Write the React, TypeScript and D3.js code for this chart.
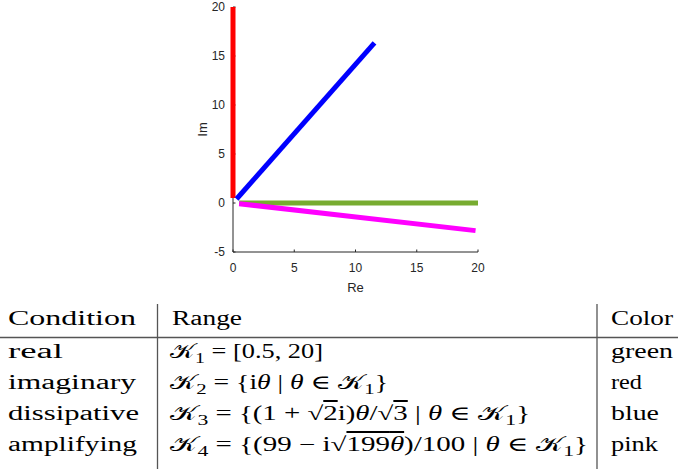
import React from "react";
import * as d3 from "d3";

// curve end points (Re, Im)
const realRe = [0.5, 20];
const realIm = [0, 0];
const imagRe = [0, 0];
const imagIm = [0.5, 20];
const dissRe = [0.29, 11.55];
const dissIm = [0.41, 16.33];
const ampRe = [0.5, 19.8];
const ampIm = [-0.07, -2.82];

const xTicks = [0, 5, 10, 15, 20];
const yTicks = [-5, 0, 5, 10, 15, 20];

const conditions = ["real", "imaginary", "dissipative", "amplifying"];
const colorNames = ["green", "red", "blue", "pink"];
const headers = ["Condition", "Range", "Color"];

type Seg = { s: string; it?: boolean; sub?: boolean; over?: boolean };

const ranges: Seg[][] = [
  [{ s: "𝒦" }, { s: "1", sub: true }, { s: " = [0.5, 20]" }],
  [
    { s: "𝒦" }, { s: "2", sub: true }, { s: " = {i" }, { s: "θ", it: true },
    { s: " | " }, { s: "θ", it: true }, { s: " ∈ " }, { s: "𝒦" }, { s: "1", sub: true }, { s: "}" },
  ],
  [
    { s: "𝒦" }, { s: "3", sub: true }, { s: " = {(1 + √" }, { s: "2", over: true },
    { s: "i)" }, { s: "θ", it: true }, { s: "/√" }, { s: "3", over: true }, { s: " | " },
    { s: "θ", it: true }, { s: " ∈ " }, { s: "𝒦" }, { s: "1", sub: true }, { s: "}" },
  ],
  [
    { s: "𝒦" }, { s: "4", sub: true }, { s: " = {(99 − i√" }, { s: "199", over: true },
    { s: "θ", it: true, over: true }, { s: ")/100 | " }, { s: "θ", it: true }, { s: " ∈ " },
    { s: "𝒦" }, { s: "1", sub: true }, { s: "}" },
  ],
];

// text widths measured in the reference
const condWidths = [55, 128, 131, 129];
const rangeWidths = [153, 218, 360, 418];
const colorWidths = [62, 31, 48, 47];
const headerWidths = [128, 70, 62];

const series = [
  { re: realRe, im: realIm, color: "#77AC30" },
  { re: imagRe, im: imagIm, color: "#FF0000" },
  { re: dissRe, im: dissIm, color: "#0000FF" },
  { re: ampRe, im: ampIm, color: "#FF00FF" },
];

export default function App() {
  const x = d3.scaleLinear().domain([0, 20]).range([233, 478]);
  const y = d3.scaleLinear().domain([-5, 20]).range([252, 7]);
  const line = d3.line<[number, number]>().x((d) => x(d[0])).y((d) => y(d[1]));
  const axisColor = "#262626";
  const tickFont = "'Liberation Sans', Arial, sans-serif";
  const serif = "'Liberation Serif', 'DejaVu Serif', serif";

  const colX = [8, 172, 611];
  const headY = 325;
  const rowY = [358, 389, 420, 451];
  const fs = 20;

  const mathText = (segs: Seg[], key: number) => {
    let shifted = false;
    return segs.map((g, i) => {
      let dy = 0;
      if (g.sub && !shifted) { dy = 5; shifted = true; }
      else if (!g.sub && shifted) { dy = -5; shifted = false; }
      return (
        <tspan
          key={key + "-" + i}
          dy={dy || undefined}
          fontSize={g.sub ? 15 : undefined}
          fontStyle={g.it ? "italic" : undefined}
          textDecoration={g.over ? "overline" : undefined}
        >
          {g.s}
        </tspan>
      );
    });
  };

  return (
    <svg width={678} height={472} style={{ position: "absolute", left: 0, top: 0, background: "#fff" }}>
      {/* axes */}
      <g stroke={axisColor} strokeWidth={1} fill="none">
        <line x1={x(0)} x2={x(20)} y1={y(-5)} y2={y(-5)} />
        <line x1={x(0)} x2={x(0)} y1={y(-5)} y2={y(20)} />
        {xTicks.map((t) => (
          <line key={"xt" + t} x1={x(t)} x2={x(t)} y1={y(-5)} y2={y(-5) - 2.5} />
        ))}
        {yTicks.map((t) => (
          <line key={"yt" + t} x1={x(0)} x2={x(0) + 2.5} y1={y(t)} y2={y(t)} />
        ))}
      </g>
      <g fill={axisColor} style={{ fontFamily: tickFont }} fontSize={12}>
        {xTicks.map((t) => (
          <text key={"xl" + t} x={x(t)} y={y(-5) + 20} textAnchor="middle">{t}</text>
        ))}
        {yTicks.map((t) => (
          <text key={"yl" + t} x={x(0) - 8} y={y(t) + 4} textAnchor="end">{t}</text>
        ))}
        <text x={x(10)} y={y(-5) + 40} textAnchor="middle" fontSize={13}>Re</text>
        <text transform={`translate(207,${(y(-5) + y(20)) / 2}) rotate(-90)`} textAnchor="middle" fontSize={13}>Im</text>
      </g>
      {/* curves */}
      {series.map((s, i) => (
        <path
          key={"s" + i}
          d={line(s.re.map((r, j) => [r, s.im[j]] as [number, number])) || ""}
          stroke={s.color}
          strokeWidth={5}
          fill="none"
          strokeLinecap="butt"
        />
      ))}
      {/* table */}
      <g stroke="#555" strokeWidth={1.3}>
        <line x1={0} x2={678} y1={337.5} y2={337.5} />
        <line x1={157.5} x2={157.5} y1={304} y2={469} />
        <line x1={597} x2={597} y1={304} y2={469} />
      </g>
      <g style={{ fontFamily: serif }} fontSize={fs} fill="#000">
        {headers.map((h, i) => (
          <text key={"h" + i} x={colX[i]} y={headY} textLength={headerWidths[i]} lengthAdjust="spacingAndGlyphs">{h}</text>
        ))}
        {conditions.map((c, i) => (
          <text key={"c" + i} x={colX[0]} y={rowY[i]} textLength={condWidths[i]} lengthAdjust="spacingAndGlyphs">{c}</text>
        ))}
        {ranges.map((r, i) => (
          <text key={"r" + i} x={colX[1] - 2} y={rowY[i]} textLength={rangeWidths[i]} lengthAdjust="spacingAndGlyphs">
            {mathText(r, i)}
          </text>
        ))}
        {colorNames.map((c, i) => (
          <text key={"k" + i} x={colX[2]} y={rowY[i]} textLength={colorWidths[i]} lengthAdjust="spacingAndGlyphs">{c}</text>
        ))}
      </g>
    </svg>
  );
}
